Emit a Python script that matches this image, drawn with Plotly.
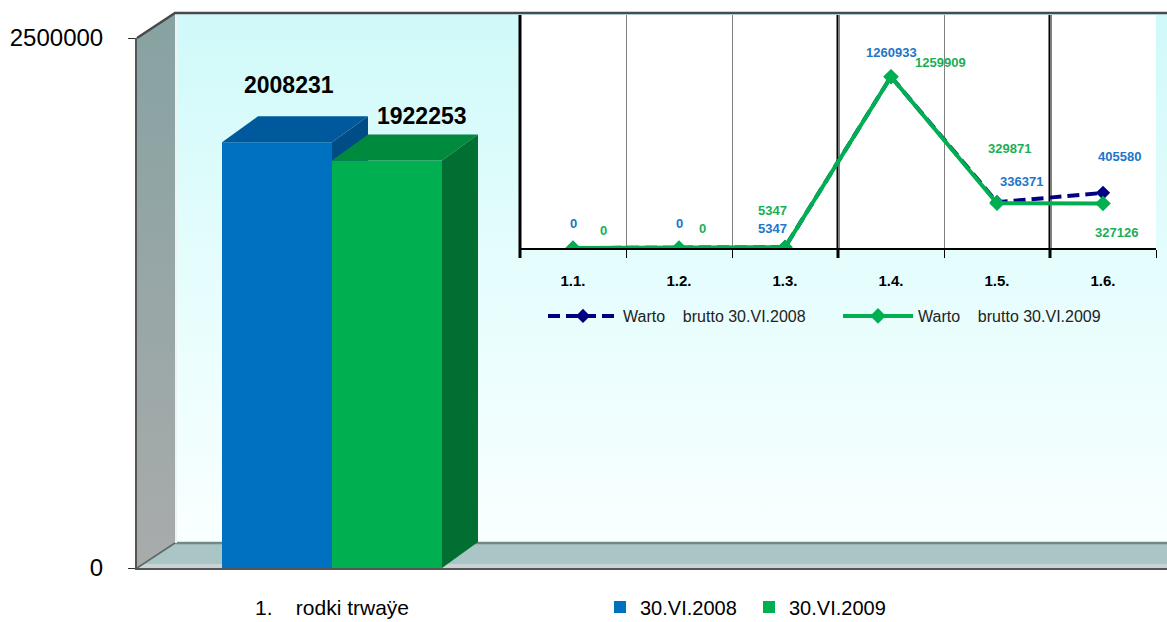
import plotly.graph_objects as go

# ---------------- data ----------------
main_category = ["1.\u00a0\u00a0\u00a0\u00a0rodki trwaÿe"]
series_names = ["30.VI.2008", "30.VI.2009"]
main_2008 = [2008231]
main_2009 = [1922253]
main_ticks = [0, 2500000]

inset_categories = ["1.1.", "1.2.", "1.3.", "1.4.", "1.5.", "1.6."]
inset_2008 = [0, 0, 5347, 1260933, 336371, 405580]
inset_2009 = [0, 0, 5347, 1259909, 329871, 327126]
inset_names = ["Warto\u00a0\u00a0\u00a0\u00a0brutto 30.VI.2008",
               "Warto\u00a0\u00a0\u00a0\u00a0brutto 30.VI.2009"]

# ---------------- styling / layout constants ----------------
W, H = 1167, 622
FONT = "Liberation Sans, Arial, sans-serif"
BLUE, BLUE_TOP, BLUE_SIDE = "#0070c0", "#00599c", "#004c86"
GREEN, GREEN_TOP, GREEN_SIDE = "#00b050", "#008a3e", "#006f31"
NAVY = "#000080"
LBL_BLUE, LBL_GREEN = "#2176c8", "#1aaf54"

# pixel frame of the 3-D box
FX0, BX0, TOPB, TOPF, FLB, FLF = 137, 175, 13, 38, 543, 568
# main value axis
YMAX = main_ticks[-1]
PX_PER_UNIT = 110 / 0.3
BAR_W = 0.3
XC = 332
xr = [-(XC - FX0) / PX_PER_UNIT, (W - XC) / PX_PER_UNIT]
DX = 36 / PX_PER_UNIT
DY = 26 * YMAX / (FLF - TOPF)

# inset frame
IX0, IX1, IY0, IY1 = 520, 1156, 15, 248
INSET_YMAX = 1714000
THICK_BOUNDARIES = [0, 3, 5]   # boundary indices drawn as heavy black lines

fig = go.Figure()

def poly(xs, ys, color=None, grad=None, xa="x", ya="y", lw=0, lc=None):
    kw = dict(x=xs + [xs[0]], y=ys + [ys[0]], mode="lines", fill="toself",
              line=dict(width=lw, color=lc or color or "rgba(0,0,0,0)"),
              hoverinfo="skip", showlegend=False, xaxis=xa, yaxis=ya)
    if grad:
        kw["fillgradient"] = grad
    else:
        kw["fillcolor"] = color
    fig.add_trace(go.Scatter(**kw))

def seg(xs, ys, color, width, dash=None):
    fig.add_trace(go.Scatter(x=xs, y=ys, mode="lines", line=dict(color=color, width=width, dash=dash),
                             hoverinfo="skip", showlegend=False, xaxis="x", yaxis="y"))

# ---------- background 3-D box (pixel axis x/y) ----------
poly([BX0, W, W, BX0], [TOPB, TOPB, FLB, FLB],
     grad=dict(type="vertical", start=TOPB, stop=FLB,
               colorscale=[[0, "#d0f9f9"], [0.5, "#e6fdfd"], [1, "#f9ffff"]]))
poly([FX0, BX0, BX0, FX0], [TOPF, TOPB, FLB, FLF],
     grad=dict(type="vertical", start=TOPB, stop=FLF,
               colorscale=[[0, "#87a2a2"], [1, "#a9abab"]]))
poly([FX0, BX0, W, W], [FLF, FLB, FLB, FLF], color="#a9c5c5")
poly([FX0, FX0 + 5, W, W], [FLF, FLF - 4, FLF - 4, FLF], color="#c9d3d3")
poly([IX0, IX1, IX1, IX0], [IY0, IY0, IY1, IY1], color="#ffffff")
seg([BX0, W], [FLB, FLB], "#748888", 2.5)
seg([FX0, BX0], [FLF, FLB], "#5a6a6a", 1.5)
seg([BX0 + 1, BX0 + 1], [TOPB, FLB], "#eef4f4", 2)
seg([FX0, BX0, W], [TOPF, TOPB, TOPB], "#4a4a4a", 2.5)

# ---------- main bars ----------
vb, vg = main_2008[0], main_2009[0]
fig.add_trace(go.Bar(x=[0], y=main_2008, width=BAR_W, offset=-BAR_W, name=series_names[0],
                     marker=dict(color=BLUE, line=dict(width=0)), xaxis="x2", yaxis="y2",
                     legend="legend", hoverinfo="y"))
poly([0, DX, DX, 0], [0, DY, vb + DY, vb], color=BLUE_SIDE, xa="x2", ya="y2")
poly([-BAR_W, -BAR_W + DX, DX, 0], [vb, vb + DY, vb + DY, vb], color=BLUE_TOP, xa="x2", ya="y2")

fig.add_trace(go.Bar(x=[0], y=main_2009, width=BAR_W, offset=0, name=series_names[1],
                     marker=dict(color=GREEN, line=dict(width=0)), xaxis="x3", yaxis="y3",
                     legend="legend", hoverinfo="y"))
poly([0, DX, BAR_W + DX, BAR_W], [vg, vg + DY, vg + DY, vg], color=GREEN_TOP, xa="x3", ya="y3")
poly([BAR_W, BAR_W + DX, BAR_W + DX, BAR_W], [0, DY, vg + DY, vg], color=GREEN_SIDE, xa="x3", ya="y3")

# ---------- inset heavy grid lines (background layer, under the lines) ----------
cat_w = (IX1 - IX0) / len(inset_categories)
for k in THICK_BOUNDARIES:
    xb = IX0 + k * cat_w
    seg([xb, xb], [IY0, IY1 + 10], "#000000", 3)

# ---------- inset lines ----------
fig.add_trace(go.Scatter(x=inset_categories, y=inset_2008, name=inset_names[0], mode="lines+markers",
                         line=dict(color=NAVY, width=4, dash="12px,6px"),
                         marker=dict(symbol="diamond", size=11, color=NAVY),
                         xaxis="x4", yaxis="y4", legend="legend2"))
fig.add_trace(go.Scatter(x=inset_categories, y=inset_2009, name=inset_names[1], mode="lines+markers",
                         line=dict(color=GREEN, width=4),
                         marker=dict(symbol="diamond", size=12, color=GREEN),
                         xaxis="x4", yaxis="y4", legend="legend2"))

ann = []
# main value labels
ann.append(dict(x=-BAR_W / 2, y=vb, xref="x2", yref="y2", text=f"<b>{vb}</b>", showarrow=False,
                xshift=12, yshift=57, font=dict(size=23, color="#000", family=FONT)))
ann.append(dict(x=BAR_W / 2, y=vg, xref="x2", yref="y2", text=f"<b>{vg}</b>", showarrow=False,
                xshift=35, yshift=44, font=dict(size=23, color="#000", family=FONT)))

off_2008 = [(0, 25), (0, 25), (-13, 19), (0, 24), (24, 21), (16, 36)]
off_2009 = [(30, 18), (23, 20), (-13, 37), (49, 14), (12, 55), (13, -29)]
for cat, v, (dx, dy) in zip(inset_categories, inset_2008, off_2008):
    ann.append(dict(x=cat, y=v, xref="x4", yref="y4", text=f"<b>{v}</b>", showarrow=False,
                    xshift=dx, yshift=dy, font=dict(size=13, color=LBL_BLUE, family=FONT)))
for cat, v, (dx, dy) in zip(inset_categories, inset_2009, off_2009):
    ann.append(dict(x=cat, y=v, xref="x4", yref="y4", text=f"<b>{v}</b>", showarrow=False,
                    xshift=dx, yshift=dy, font=dict(size=13, color=LBL_GREEN, family=FONT)))

main_dom_y = [1 - FLF / H, 1 - TOPF / H]
main_dom_x = [FX0 / W, 1.0]

fig.update_layout(
    width=W, height=H, margin=dict(l=0, r=0, t=0, b=0, autoexpand=False),
    paper_bgcolor="#ffffff", plot_bgcolor="rgba(0,0,0,0)",
    font=dict(family=FONT, color="#000"),
    barmode="overlay",
    xaxis=dict(domain=[0, 1], range=[0, W], visible=False, fixedrange=True),
    yaxis=dict(domain=[0, 1], range=[H, 0], visible=False, fixedrange=True),
    xaxis2=dict(domain=main_dom_x, range=xr, anchor="y2", tickvals=[0], ticktext=main_category,
                showline=True, linecolor="#555", linewidth=2, ticks="", showgrid=False,
                zeroline=False, tickfont=dict(size=21), ticklabelstandoff=20, automargin=False),
    yaxis2=dict(domain=main_dom_y, range=[0, YMAX], anchor="x2", tickvals=main_ticks,
                ticktext=[str(t) for t in main_ticks], ticks="outside", ticklen=7,
                tickcolor="#333", showline=True, linecolor="#555", linewidth=2,
                showgrid=False, zeroline=False, tickfont=dict(size=24), ticklabelstandoff=20,
                automargin=False),
    xaxis3=dict(domain=main_dom_x, range=xr, overlaying="x2", anchor="y3", visible=False),
    yaxis3=dict(domain=main_dom_y, range=[0, YMAX], overlaying="y2", anchor="x3", visible=False),
    xaxis4=dict(domain=[IX0 / W, IX1 / W], type="category", range=[-0.5, 5.5], anchor="y4",
                showline=True, linecolor="#000", linewidth=1.5, ticks="outside",
                tickson="boundaries", ticklen=8, tickcolor="#000", showgrid=True,
                gridcolor="#808080", gridwidth=1, tickfont=dict(size=15, weight="bold"),
                ticklabelstandoff=18, automargin=False),
    yaxis4=dict(domain=[1 - IY1 / H, 1 - IY0 / H], range=[0, INSET_YMAX], anchor="x4",
                visible=False),
    legend=dict(orientation="h", x=600 / W, xanchor="left", y=1 - 607 / H, yanchor="middle",
                font=dict(size=20), bgcolor="rgba(0,0,0,0)", entrywidth=104, itemwidth=30),
    legend2=dict(orientation="h", x=543 / W, xanchor="left", y=1 - 316 / H, yanchor="middle",
                 font=dict(size=16, color="#222"), bgcolor="rgba(0,0,0,0)", entrywidth=210,
                 itemwidth=70),
    annotations=ann,
)

fig.write_html("out.html", config={"displayModeBar": False},
               post_script="document.body.style.margin='0';")
